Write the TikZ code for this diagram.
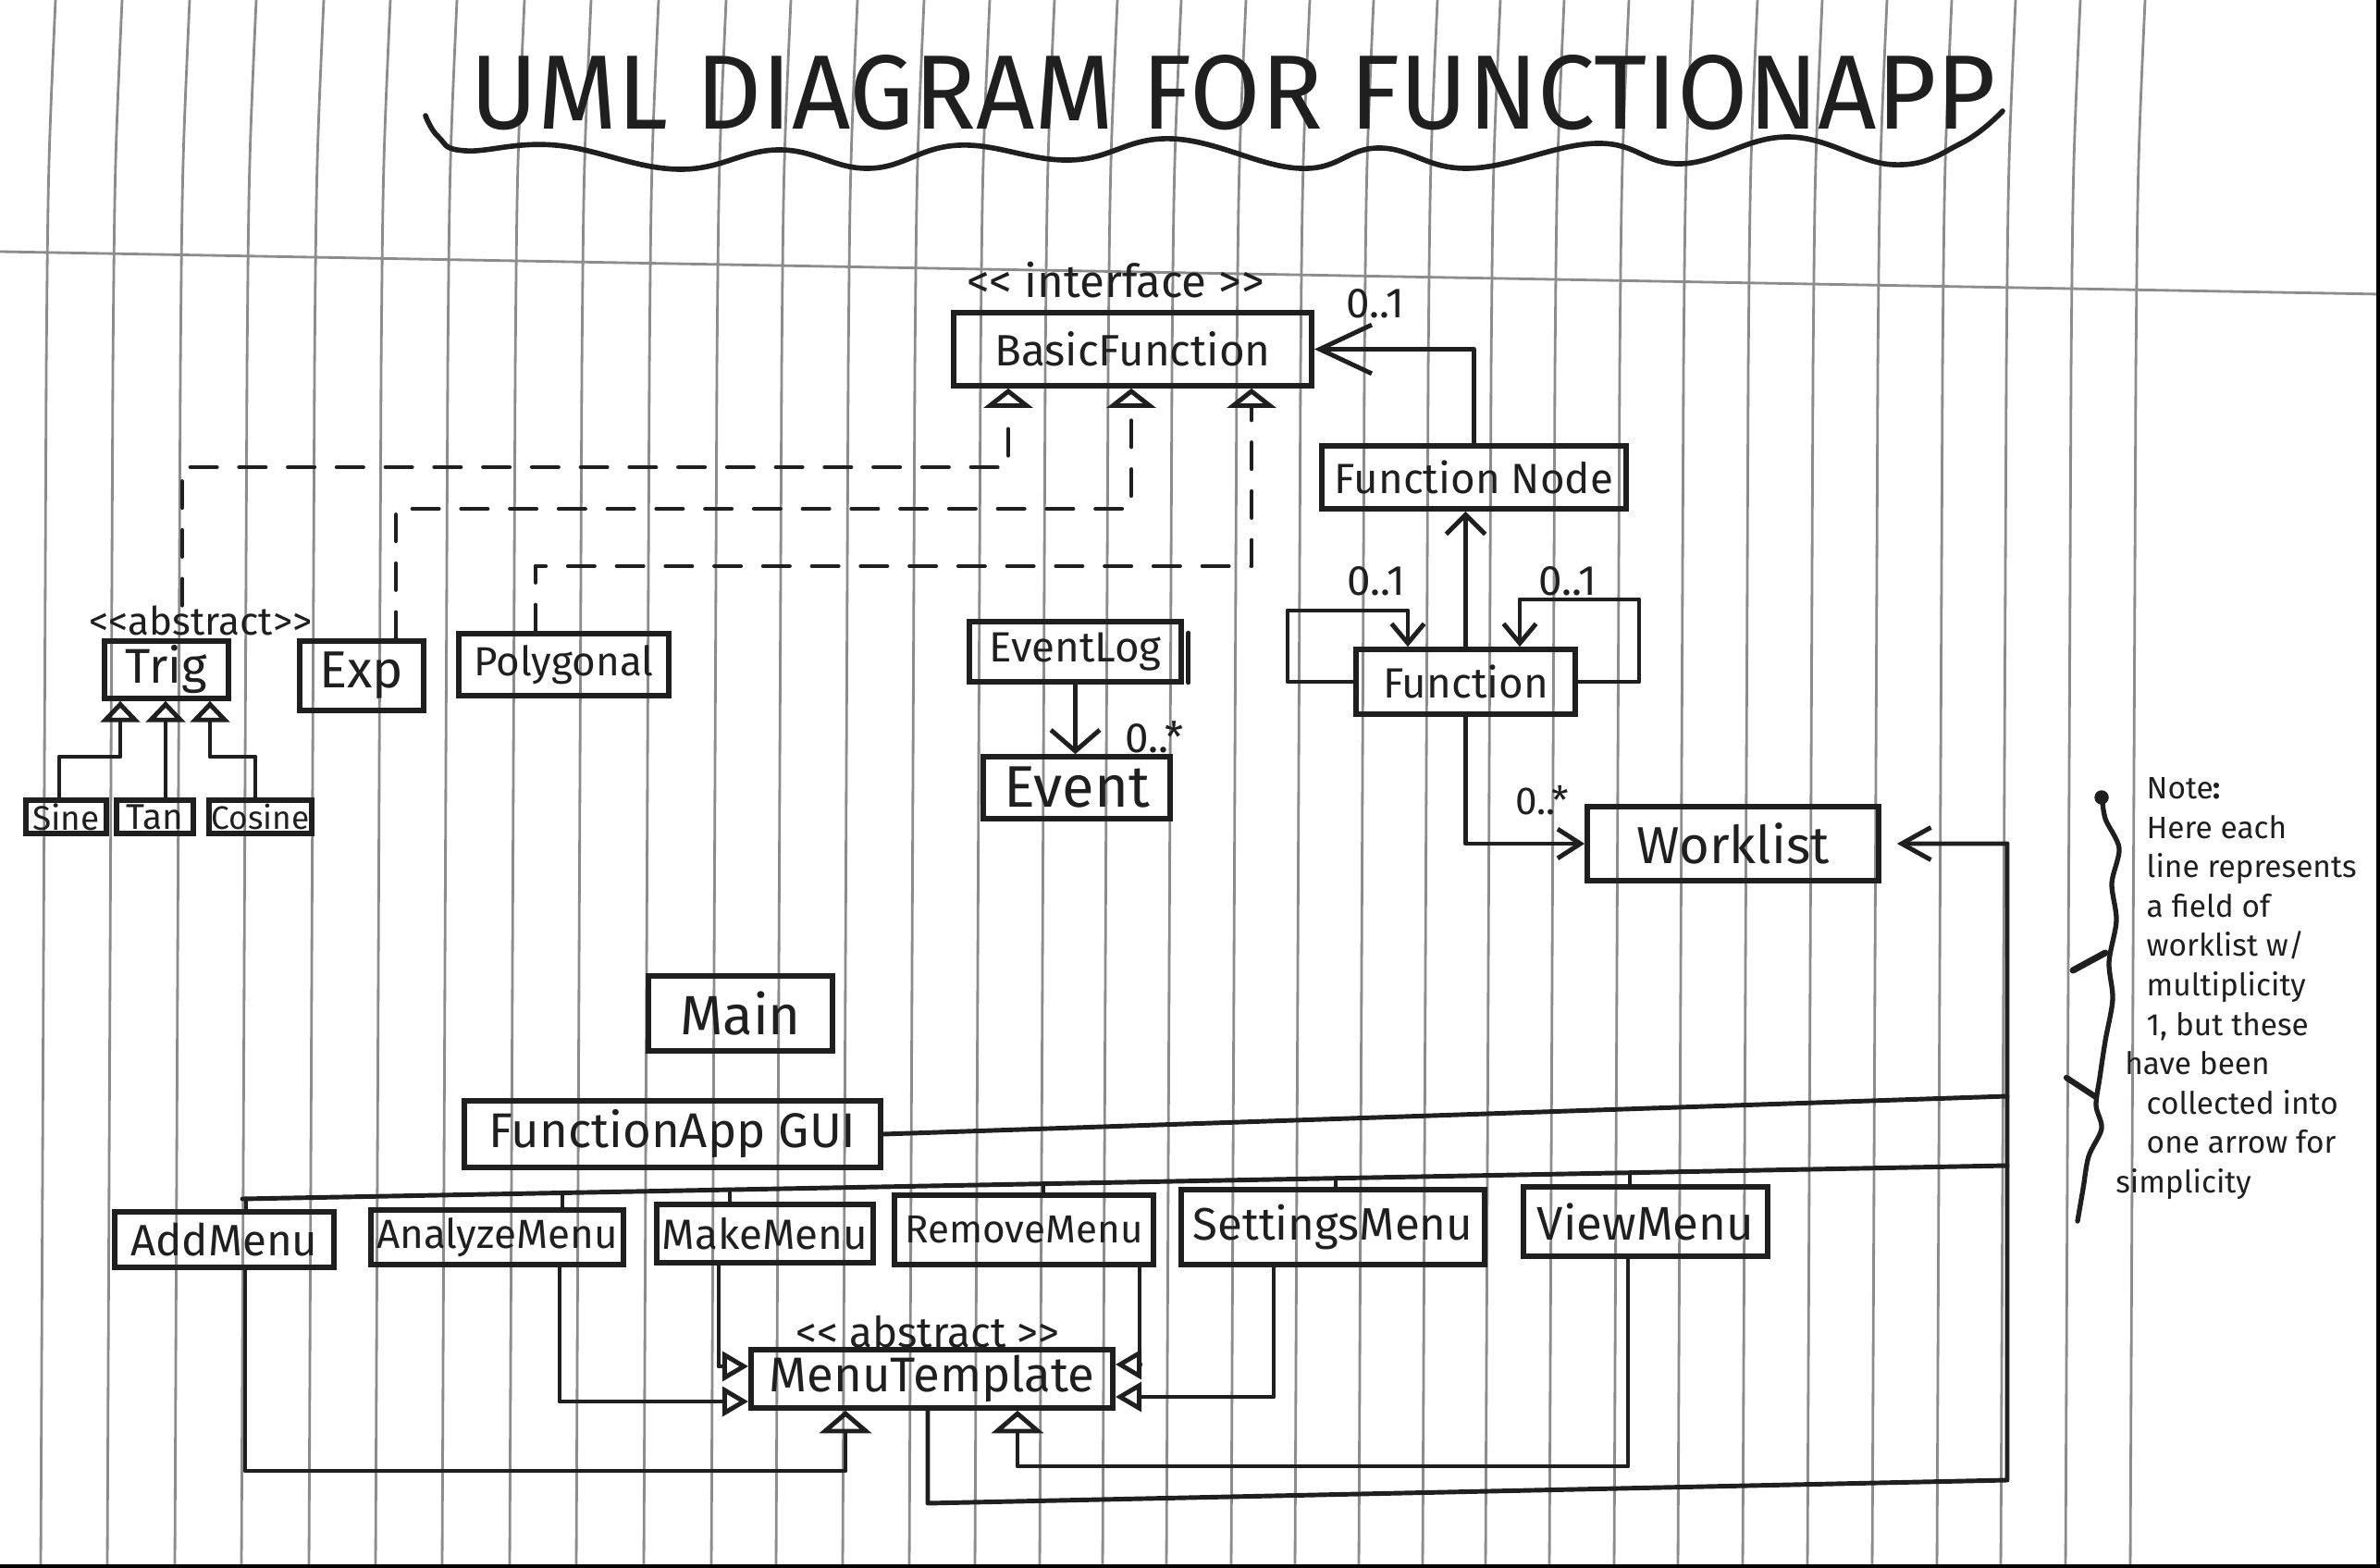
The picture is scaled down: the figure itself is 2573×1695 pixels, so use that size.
\documentclass[tikz,border=0pt]{standalone}
\usepackage{fontspec}
\usepackage{graphicx}
\setmainfont{Fira Sans}
\usetikzlibrary{arrows.meta,calc}
\begin{document}
\begin{tikzpicture}[x=0.01cm,y=-0.01cm,
  box/.style={draw=black!88, line width=1.6pt, inner sep=0pt, text=black!88},
  fs/.style={font=\fontsize{#1}{#1}\selectfont},
  lbl/.style={text=black!88, inner sep=0pt},
  conn/.style={draw=black!88, line width=1.4pt, line cap=round, line join=round},
  dashedconn/.style={conn, dash pattern=on 8pt off 7pt},
  tri/.style 2 args={-{Triangle[open,length=#1,width=#2]}},
  vtip/.style 2 args={-{Straight Barb[length=#1,width=#2]}},
  rule/.style={draw=black!45, line width=0.8pt},
]
\useasboundingbox (0,0) rectangle (2573,1695);
\fill[white] (0,0) rectangle (2573,1695);

% ruled paper
\foreach \x in {48,120,193,265,338,410,482,555,627,700,773,843,915,987,1058,1128,1196,1265,1335,1404,1473,1542,1610,1679,1749,1818,1888,1958,2028,2098,2167,2237,2307}
  \draw[rule] (\x+12,0) .. controls (\x+4,180) .. (\x+2,400) -- (\x-4,1695);
\draw[rule] (0,272) -- (2573,318);
\draw[black, line width=1.2pt] (2571,0) -- (2571,1693) -- (0,1693);

% title
\node[lbl] (title) at (1333,100) {\resizebox{16.48cm}{0.8cm}{UML DIAGRAM FOR FUNCTIONAPP}};
\draw[conn, line width=1.6pt] plot[smooth, tension=0.7] coordinates {(460,125) (474,148) (503,163) (601,157) (733,183) (842,162) (940,182) (1037,157) (1158,173) (1267,150) (1405,182) (1491,160) (1588,182) (1726,155) (1818,177) (1933,148) (2047,178) (2120,155) (2165,120)};

% top classes
\node[box, fs=13.5, minimum width=3.87cm, minimum height=0.79cm] (bf) at (1224.5,377.5) {BasicFunction};
\node[lbl, fs=14] (iface) at (1206,303) {<{}< interface >{}>};
\node[lbl, fs=13] (m1) at (1487,328) {0..1};
\node[box, fs=13, minimum width=3.29cm, minimum height=0.68cm] (fnode) at (1593.5,516) {Function Node};
\node[box, fs=13, minimum width=2.37cm, minimum height=0.70cm] (func) at (1584.5,737) {Function};
\node[lbl, fs=13] (m2) at (1488,628) {0..1};
\node[lbl, fs=13] (m3) at (1695,628) {0..1};
\node[box, fs=13, minimum width=2.29cm, minimum height=0.65cm] (elog) at (1162.5,704.5) {EventLog};
\node[box, fs=18, minimum width=2.02cm, minimum height=0.67cm] (event) at (1164,851.5) {Event};
\node[lbl, fs=13] (m4) at (1248,797) {0..*};
\node[box, fs=16, minimum width=3.15cm, minimum height=0.80cm] (wl) at (1873.5,912) {Worklist};
\node[lbl, fs=12] (m5) at (1667,865) {0..*};

% function classes
\node[box, fs=15, minimum width=1.34cm, minimum height=0.62cm] (trig) at (180,724) {Trig};
\node[lbl, fs=12] (trigabs) at (217,671) {<{}<abstract>{}>};
\node[box, fs=16, minimum width=1.34cm, minimum height=0.75cm] (exp) at (391,730.5) {Exp};
\node[box, fs=12.5, minimum width=2.27cm, minimum height=0.67cm] (poly) at (609.5,718.5) {Polygonal};
\node[box, fs=10.5, minimum width=0.87cm, minimum height=0.36cm] (sine) at (71.5,883) {Sine};
\node[box, fs=11, minimum width=0.83cm, minimum height=0.36cm] (tan) at (167.5,883) {Tan};
\node[box, fs=10, minimum width=1.11cm, minimum height=0.36cm] (cosine) at (281.5,883) {Cosine};

% GUI classes
\node[box, fs=17, minimum width=1.99cm, minimum height=0.81cm] (main) at (800.5,1095.5) {Main};
\node[box, fs=15, minimum width=4.50cm, minimum height=0.72cm] (gui) at (727,1226) {FunctionApp GUI};
\node[box, fs=13.5, minimum width=2.37cm, minimum height=0.60cm] (add) at (242.5,1340) {AddMenu};
\node[box, fs=12.5, minimum width=2.73cm, minimum height=0.59cm] (analyze) at (537.5,1337.5) {AnalyzeMenu};
\node[box, fs=13, minimum width=2.34cm, minimum height=0.63cm] (make) at (827,1333.5) {MakeMenu};
\node[box, fs=12, minimum width=2.80cm, minimum height=0.75cm] (remove) at (1107,1329.5) {RemoveMenu};
\node[box, fs=14, minimum width=3.28cm, minimum height=0.81cm] (settings) at (1441,1326.5) {SettingsMenu};
\node[box, fs=14.5, minimum width=2.64cm, minimum height=0.75cm] (view) at (1779,1320.5) {ViewMenu};
\node[box, fs=15, minimum width=3.91cm, minimum height=0.63cm] (mt) at (1007.5,1490.5) {MenuTemplate};
\node[lbl, fs=13] (mtabs) at (1003,1440) {<{}< abstract >{}>};

% realizations of BasicFunction
\coordinate (bx1) at (1090,0);
\coordinate (bx2) at (1223,0);
\coordinate (bx3) at (1353,0);
\coordinate (d1) at (197,505);
\coordinate (d2) at (428,550);
\coordinate (d3) at (579,612);
\draw[dashedconn, tri={6pt}{15pt}] (trigabs.north -| d1) -- (d1) -| (bf.south -| bx1);
\draw[dashedconn, tri={6pt}{15pt}] (exp.north -| d2) -- (d2) -| (bf.south -| bx2);
\draw[dashedconn, tri={6pt}{15pt}] (poly.north -| d3) -- (d3) -| (bf.south -| bx3);

% Trig subclasses
\coordinate (tx1) at (130,0);
\coordinate (tx2) at (179,0);
\coordinate (tx3) at (227,0);
\coordinate (s1) at (64,818);
\coordinate (c1) at (276,818);
\draw[conn, tri={6.5pt}{12pt}] (sine.north -| s1) -- (s1) -| (trig.south -| tx1);
\draw[conn, tri={6.5pt}{12pt}] (tan.north -| tx2) -- (trig.south -| tx2);
\draw[conn, tri={6.5pt}{12pt}] (cosine.north -| c1) -- (c1) -| (trig.south -| tx3);

% associations
\draw[conn, vtip={16pt}{15pt}] (fnode.north) |- (bf.east);
\draw[conn, vtip={6pt}{12pt}] (func.north) -- (func.north |- fnode.south);
\coordinate (fl) at (1392,660);
\coordinate (fr) at (1772,648);
\coordinate (flx) at (1522,0);
\coordinate (frx) at (1643,0);
\draw[conn, vtip={6pt}{10pt}] (func.west) -| (fl) -| (func.north -| flx);
\draw[conn, vtip={6pt}{10pt}] (func.east) -| (fr) -| (func.north -| frx);
\draw[conn, vtip={6.5pt}{15pt}] (elog.south) -- (elog.south |- event.north);
\draw[conn] ([xshift=0.05cm,yshift=-0.15cm]elog.north east) -- ([xshift=0.05cm,yshift=0.02cm]elog.south east);
\draw[conn, vtip={7pt}{9pt}] (func.south) |- (wl.west);

% collected worklist fields
\coordinate (trk) at (2170,0);
\coordinate (tb) at (2170,1600);
\coordinate (mb) at (1003,1625);
\draw[conn, vtip={9pt}{10pt}, shorten >=4.8pt] (mt.south -| mb) -- (mb) -- (tb) -- (wl.east -| trk) -- (wl.east);
\coordinate (g1) at (2170,1185);
\draw[conn] (gui.east) -- (g1);
\coordinate (bus0) at (262,1296);
\coordinate (bus1) at (2170,1260);
\draw[conn] (bus0) -- (bus1);
\coordinate (ba) at (266,1296);
\coordinate (bn) at (608,1289.5);
\coordinate (bm) at (789,1286);
\coordinate (br) at (1128,1279.7);
\coordinate (bs) at (1444,1273.7);
\coordinate (bv) at (1762,1267.7);
\draw[conn] (ba) -- (add.north -| ba);
\draw[conn] (bn) -- (analyze.north -| bn);
\draw[conn] (bm) -- (make.north -| bm);
\draw[conn] (br) -- (remove.north -| br);
\draw[conn] (bs) -- (settings.north -| bs);
\draw[conn] (bv) -- (view.north -| bv);

% menus extend MenuTemplate
\coordinate (a1) at (265,1590);
\coordinate (a2) at (914,0);
\draw[conn, tri={7pt}{16pt}] (add.south -| a1) -- (a1) -| (mt.south -| a2);
\coordinate (an1) at (605,1515);
\draw[conn, tri={8pt}{9pt}] (analyze.south -| an1) -- (an1) -- (mt.west |- an1);
\coordinate (mk1) at (777,1477);
\draw[conn, tri={8pt}{9pt}] (make.south -| mk1) -- (mk1) -- (mt.west |- mk1);
\coordinate (rm1) at (1232,1475);
\draw[conn, tri={8pt}{9pt}] (remove.south -| rm1) -- (rm1) -- (mt.east |- rm1);
\coordinate (st1) at (1377,1510);
\draw[conn, tri={8pt}{9pt}] (settings.south -| st1) -- (st1) -- (mt.east |- st1);
\coordinate (vw1) at (1760,1585);
\coordinate (vw2) at (1100,0);
\draw[conn, tri={7pt}{16pt}] (view.south -| vw1) -- (vw1) -| (mt.south -| vw2);

% note
\draw[conn, line width=1.5pt] plot[smooth] coordinates {(2272,858) (2276,885) (2291,917) (2283,955) (2288,995) (2280,1040) (2284,1080) (2276,1125) (2270,1165) (2266,1195) (2272,1220) (2258,1250) (2252,1285) (2246,1320)};
\fill[black!88] (2272,862) circle (2.2pt);
\draw[conn, line width=2pt] (2241,1049) -- (2276,1030);
\draw[conn, line width=1.8pt] (2234,1165) -- (2266,1186);
\node[lbl, font=\fontsize{9.5}{12.1}\selectfont, align=left, anchor=north west] (note) at (2320,840) {Note\textbf{:}\\ Here each\\ line represents\\ a field of\\ worklist w/\\ multiplicity\\ 1, but these\\ \hspace*{-0.7em}have been\\ collected into\\ one arrow for\\ \hspace*{-1em}simplicity};
\end{tikzpicture}
\end{document}
